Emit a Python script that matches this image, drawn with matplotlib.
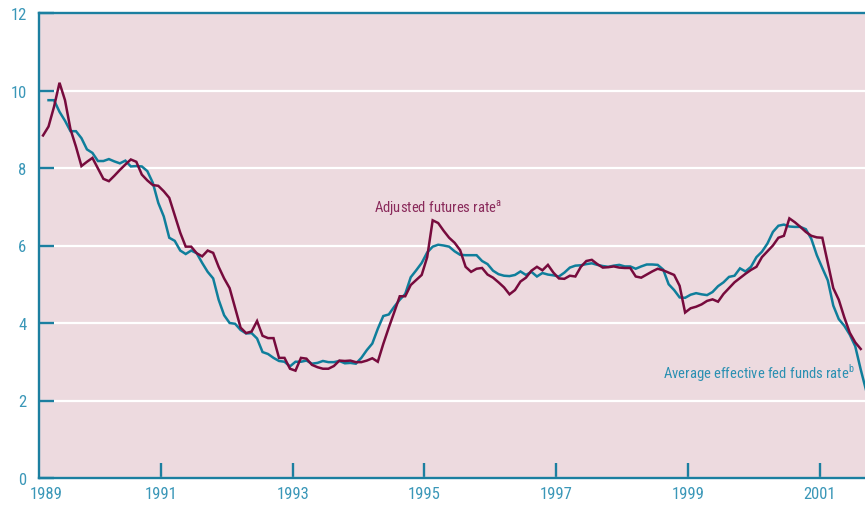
#!/usr/bin/env python

import numpy as np
import matplotlib
matplotlib.use('Agg')
import matplotlib.pyplot as plt
from matplotlib import font_manager as fm

# pick a condensed sans face if one is installed
installed = set(f.name for f in fm.fontManager.ttflist)
narrow = [n for n in ['Roboto Condensed', 'Archivo Narrow', 'PT Sans Narrow',
                      'Fira Sans Condensed', 'IBM Plex Sans Condensed',
                      'Asap Condensed', 'Encode Sans Condensed',
                      'Liberation Sans Narrow', 'Open Sans Condensed']
          if n in installed]
plt.rcParams['font.family'] = narrow[:1] + ['DejaVu Sans']
plt.rcParams['mathtext.fontset'] = 'custom'

# monthly readings, futures rate starts Mar 1989, fed funds rate starts Apr 1989
futures_start = 1989 + 2.5 / 12
fedfunds_start = 1989 + 3.5 / 12

futures_rate = [
    8.84, 9.07, 9.58, 10.2, 9.75, 9.0, 8.55, 8.05, 8.16, 8.26,
    7.99, 7.72, 7.66, 7.8, 7.95, 8.09, 8.22, 8.16, 7.83, 7.68,
    7.56, 7.54, 7.4, 7.23, 6.78, 6.33, 5.97, 5.97, 5.8, 5.72,
    5.87, 5.81, 5.45, 5.15, 4.9, 4.39, 3.88, 3.74, 3.78, 4.05,
    3.67, 3.61, 3.61, 3.1, 3.1, 2.82, 2.77, 3.1, 3.08, 2.92,
    2.86, 2.82, 2.82, 2.89, 3.03, 3.02, 3.03, 2.99, 2.99, 3.03,
    3.09, 3.0, 3.46, 3.88, 4.28, 4.69, 4.69, 4.98, 5.11, 5.24,
    5.7, 6.65, 6.58, 6.38, 6.2, 6.07, 5.88, 5.45, 5.32, 5.4,
    5.42, 5.25, 5.17, 5.05, 4.92, 4.74, 4.85, 5.07, 5.17, 5.35,
    5.45, 5.36, 5.5, 5.3, 5.15, 5.14, 5.22, 5.2, 5.45, 5.6,
    5.63, 5.52, 5.43, 5.44, 5.46, 5.43, 5.42, 5.42, 5.2, 5.17,
    5.25, 5.33, 5.4, 5.36, 5.3, 5.24, 4.96, 4.27, 4.38, 4.42,
    4.48, 4.57, 4.61, 4.55, 4.75, 4.9, 5.05, 5.16, 5.27, 5.37,
    5.45, 5.7, 5.85, 6.0, 6.2, 6.25, 6.7, 6.6, 6.48, 6.35,
    6.25, 6.21, 6.2, 5.55, 4.9, 4.6, 4.15, 3.75, 3.5, 3.33,
]

fed_funds_rate = [
    9.75, 9.75, 9.45, 9.22, 8.95, 8.95, 8.77, 8.48, 8.39, 8.18,
    8.18, 8.23, 8.17, 8.12, 8.19, 8.04, 8.05, 8.04, 7.92, 7.62,
    7.1, 6.75, 6.2, 6.12, 5.87, 5.78, 5.87, 5.8, 5.55, 5.32,
    5.15, 4.6, 4.2, 4.0, 3.98, 3.82, 3.73, 3.74, 3.6, 3.25,
    3.2, 3.1, 3.02, 3.0, 2.88, 3.0, 3.0, 3.03, 2.95, 2.97,
    3.02, 2.99, 2.99, 3.02, 2.96, 2.97, 2.95, 3.1, 3.3, 3.47,
    3.85, 4.18, 4.22, 4.42, 4.6, 4.75, 5.18, 5.36, 5.55, 5.82,
    5.97, 6.02, 6.0, 5.97, 5.85, 5.76, 5.75, 5.75, 5.75, 5.6,
    5.52, 5.35, 5.26, 5.22, 5.21, 5.24, 5.33, 5.24, 5.32, 5.2,
    5.29, 5.25, 5.23, 5.2, 5.3, 5.43, 5.48, 5.49, 5.52, 5.54,
    5.5, 5.47, 5.45, 5.48, 5.5, 5.46, 5.46, 5.4, 5.46, 5.51,
    5.51, 5.5, 5.38, 5.0, 4.85, 4.66, 4.65, 4.73, 4.77, 4.74,
    4.72, 4.8, 4.95, 5.05, 5.19, 5.22, 5.41, 5.33, 5.45, 5.7,
    5.84, 6.05, 6.35, 6.51, 6.54, 6.49, 6.48, 6.48, 6.42, 6.17,
    5.75, 5.42, 5.1, 4.45, 4.1, 3.93, 3.7, 3.4, 2.8, 2.25,
]

year_ticks = [1991, 1993, 1995, 1997, 1999, 2001]
year_labels = ['1989', '1991', '1993', '1995', '1997', '1999', '2001']

#colours
teal = '#0f7e9b'
maroon = '#770b3d'
axis_col = '#1b7fa0'
label_col = '#3a97b8'

x_fut = futures_start + np.arange(len(futures_rate)) / 12
x_ff = fedfunds_start + np.arange(len(fed_funds_rate)) / 12

fig = plt.figure(figsize=(8.65, 5.10), dpi=100)
ax = fig.add_axes([39 / 865, 31 / 510, 826 / 865, 465 / 510])
ax.set_facecolor('#eddadf')

ax.plot(x_ff, fed_funds_rate, color=teal, lw=1.8, solid_joinstyle='miter')
ax.plot(x_fut, futures_rate, color=maroon, lw=1.8, solid_joinstyle='miter')

ax.set_xlim(1989.147, 2001.69)
ax.set_ylim(0, 12)

#grid
ax.set_yticks(range(0, 13, 2))
ax.yaxis.grid(True, color='white', lw=1.6)
ax.set_axisbelow(True)

#ticks
ax.set_xticks([1989.25] + year_ticks)
ax.set_xticklabels(year_labels)
ax.xaxis.get_major_ticks()[0].tick1line.set_visible(False)
ax.tick_params(axis='both', direction='in', color=axis_col, width=1.7,
               length=11, labelcolor=label_col, labelsize=12)
ax.tick_params(axis='x', pad=6)
ax.tick_params(axis='y', pad=9)

for side in ['left', 'top', 'bottom']:
    ax.spines[side].set_color(axis_col)
    ax.spines[side].set_linewidth(1.7)
ax.spines['right'].set_visible(False)

#labels
ax.text(1994.23, 6.87, r'Adjusted futures rate$^{\mathregular{a}}$',
        color='#8a2a5b', fontsize=10.5, ha='left', va='baseline')
ax.text(1998.62, 2.58, r'Average effective fed funds rate$^{\mathregular{b}}$',
        color='#2b90b2', fontsize=10.5, ha='left', va='baseline')

fig.savefig('out.png', dpi=100)
